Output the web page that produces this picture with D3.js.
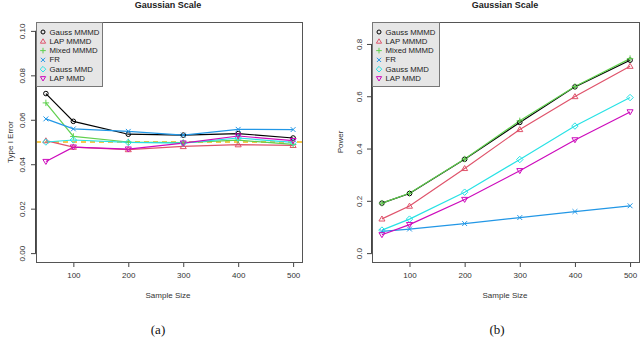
<!DOCTYPE html>
<html><head><meta charset="utf-8">
<script src="https://cdn.jsdelivr.net/npm/d3@7"></script>
<style>body{margin:0;background:#fff}svg{display:block}text{font-family:"Liberation Sans",Arial,sans-serif}text.cap{font-family:"Liberation Serif","DejaVu Serif",serif}</style>
</head><body><svg id="c" width="640" height="338"></svg>
<script>
const sampleSizes = [50, 100, 200, 300, 400, 500];
const seriesNames = ["Gauss MMMD", "LAP MMMD", "Mixed MMMD", "FR", "Gauss MMD", "LAP MMD"];
const seriesColors = ["#000000", "#DF536B", "#61D04F", "#2297E6", "#28E2E5", "#CD0BBC"];
const seriesShapes = ["circle", "triUp", "plus", "cross", "diamond", "triDown"];
// Panel (a): Type I Error
const typeI_GaussMMMD = [0.0718, 0.0593, 0.0535, 0.0531, 0.0538, 0.0518];
const typeI_LAPMMMD   = [0.0506, 0.0477, 0.0466, 0.0480, 0.0488, 0.0485];
const typeI_MixedMMMD = [0.0676, 0.0525, 0.0500, 0.0497, 0.0508, 0.0489];
const typeI_FR        = [0.0604, 0.0559, 0.0548, 0.0531, 0.0557, 0.0556];
const typeI_GaussMMD  = [0.0500, 0.0509, 0.0498, 0.0495, 0.0518, 0.0498];
const typeI_LAPMMD    = [0.0412, 0.0477, 0.0468, 0.0495, 0.0527, 0.0506];
// Panel (b): Power
const power_GaussMMMD = [0.191, 0.228, 0.359, 0.500, 0.636, 0.738];
const power_LAPMMMD   = [0.131, 0.180, 0.324, 0.473, 0.599, 0.715];
const power_MixedMMMD = [0.191, 0.229, 0.360, 0.506, 0.637, 0.744];
const power_FR        = [0.083, 0.092, 0.113, 0.136, 0.159, 0.181];
const power_GaussMMD  = [0.088, 0.130, 0.233, 0.358, 0.486, 0.595];
const power_LAPMMD    = [0.070, 0.109, 0.205, 0.315, 0.433, 0.540];
const xTicks = [100, 200, 300, 400, 500];
const yTicksA = [0, 0.02, 0.04, 0.06, 0.08, 0.10];
const yTicksB = [0, 0.2, 0.4, 0.6, 0.8];
const refLevel = 0.05;

const svg = d3.select("#c");

function symPath(shape, s) {
  switch (shape) {
    case "circle": return `M${-s},0a${s},${s} 0 1,0 ${2*s},0a${s},${s} 0 1,0 ${-2*s},0`;
    case "triUp": { const h = s*1.25; return `M0,${-h}L${h*1.05},${h*0.75}L${-h*1.05},${h*0.75}Z`; }
    case "triDown": { const h = s*1.25; return `M0,${h}L${h*1.05},${-h*0.75}L${-h*1.05},${-h*0.75}Z`; }
    case "plus": { const a = s*1.4; return `M${-a},0L${a},0M0,${-a}L0,${a}`; }
    case "cross": { const a = s*1.05; return `M${-a},${-a}L${a},${a}M${-a},${a}L${a},${-a}`; }
    case "diamond": { const a = s*1.4; return `M0,${-a}L${a},0L0,${a}L${-a},0Z`; }
  }
}

function panel(opt) {
  const {x0, x1, y0, y1, yDomain, yTicks, yFmt, series, title, ylab, cx, ylabX, tickLabX, ref, caption, legW} = opt;
  const g = svg.append("g");
  const x = d3.scaleLinear().domain([32, 518]).range([x0, x1]);
  const y = d3.scaleLinear().domain(yDomain).range([y1, y0]);
  const axCol = "#444";
  const xa = g.append("g").attr("transform", `translate(0,${y1})`)
    .call(d3.axisBottom(x).tickValues(xTicks).tickSize(5).tickPadding(5).tickFormat(d3.format("d")));
  xa.select(".domain").attr("d", `M${x(xTicks[0])},0.5H${x(xTicks[xTicks.length-1])}`).attr("stroke", axCol);
  xa.selectAll(".tick line").attr("stroke", axCol);
  xa.selectAll("text").attr("font-size", 8).attr("fill", "#333");
  const ya = g.append("g").attr("transform", `translate(${x0},0)`)
    .call(d3.axisLeft(y).tickValues(yTicks).tickSize(5).tickFormat(yFmt));
  ya.select(".domain").attr("d", `M-0.5,${y(yTicks[0])}V${y(yTicks[yTicks.length-1])}`).attr("stroke", axCol);
  ya.selectAll(".tick line").attr("stroke", axCol);
  ya.selectAll(".tick text").attr("font-size", 8).attr("fill", "#333")
    .attr("x", null).attr("dy", null)
    .attr("transform", `translate(${tickLabX - x0},0) rotate(-90)`)
    .attr("text-anchor", "middle").attr("dominant-baseline", "central");
  const clip = "clip" + title.length + x0;
  g.append("clipPath").attr("id", clip).append("rect").attr("x", x0).attr("y", y0).attr("width", x1 - x0).attr("height", y1 - y0);
  const pg = g.append("g").attr("clip-path", `url(#${clip})`);
  if (ref !== null) {
    pg.append("line").attr("x1", x0).attr("x2", x1).attr("y1", y(ref)).attr("y2", y(ref))
      .attr("stroke", "#F5B80F").attr("stroke-width", 1.5).attr("stroke-dasharray", "5,4");
  }
  const line = d3.line().x((d, i) => x(sampleSizes[i])).y(d => y(d));
  series.forEach((vals, k) => {
    pg.append("path").attr("d", line(vals)).attr("fill", "none")
      .attr("stroke", seriesColors[k]).attr("stroke-width", 1.2);
  });
  series.forEach((vals, k) => {
    pg.selectAll(null).data(vals).enter().append("path")
      .attr("transform", (d, i) => `translate(${x(sampleSizes[i])},${y(d)})`)
      .attr("d", symPath(seriesShapes[k], 2.3)).attr("fill", "none")
      .attr("stroke", seriesColors[k]).attr("stroke-width", 1);
  });
  g.append("rect").attr("x", x0 + 0.5).attr("y", y0 + 0.5).attr("width", x1 - x0 - 1).attr("height", y1 - y0)
    .attr("fill", "none").attr("stroke", "#555").attr("stroke-width", 1);
  const lg = g.append("g");
  lg.append("rect").attr("x", x0 + 0.5).attr("y", y0 + 0.5).attr("width", legW).attr("height", 64)
    .attr("fill", "#E6E6E6").attr("stroke", "#777").attr("stroke-width", 1);
  seriesNames.forEach((n, k) => {
    const yy = y0 + 10 + k * 9.3;
    lg.append("path").attr("transform", `translate(${x0 + 7},${yy})`)
      .attr("d", symPath(seriesShapes[k], 2.0)).attr("fill", "none")
      .attr("stroke", seriesColors[k]).attr("stroke-width", 1);
    lg.append("text").attr("x", x0 + 13.5).attr("y", yy).attr("dominant-baseline", "central")
      .attr("font-size", 7.8).attr("fill", "#222").text(n);
  });
  g.append("text").attr("x", cx).attr("y", 8).attr("text-anchor", "middle").attr("font-size", 9)
    .attr("font-weight", "bold").attr("fill", "#222").text(title);
  g.append("text").attr("x", cx).attr("y", 298).attr("text-anchor", "middle").attr("font-size", 8)
    .attr("fill", "#333").text("Sample Size");
  g.append("text").attr("transform", `translate(${ylabX},${(y0 + y1) / 2}) rotate(-90)`)
    .attr("text-anchor", "middle").attr("dominant-baseline", "central").attr("font-size", 8)
    .attr("fill", "#333").text(ylab);
  svg.append("text").attr("class", "cap").attr("x", caption[0]).attr("y", caption[1]).attr("text-anchor", "middle")
    .attr("font-size", 13).attr("fill", "#111").text(caption[2]);
}

panel({x0: 36, x1: 303, y0: 22, y1: 262, yDomain: [-0.004, 0.104], yTicks: yTicksA,
  yFmt: d3.format(".2f"), series: [typeI_GaussMMMD, typeI_LAPMMMD, typeI_MixedMMMD, typeI_FR, typeI_GaussMMD, typeI_LAPMMD],
  title: "Gaussian Scale", ylab: "Type I Error", cx: 168, ylabX: 10, tickLabX: 22, ref: refLevel,
  caption: [158, 334, "(a)"], legW: 66});
panel({x0: 372, x1: 640, y0: 22, y1: 262, yDomain: [-0.034, 0.884], yTicks: yTicksB,
  yFmt: d3.format(".1f"), series: [power_GaussMMMD, power_LAPMMMD, power_MixedMMMD, power_FR, power_GaussMMD, power_LAPMMD],
  title: "Gaussian Scale", ylab: "Power", cx: 505, ylabX: 340, tickLabX: 359, ref: null,
  caption: [497, 334, "(b)"], legW: 67});
</script></body></html>
